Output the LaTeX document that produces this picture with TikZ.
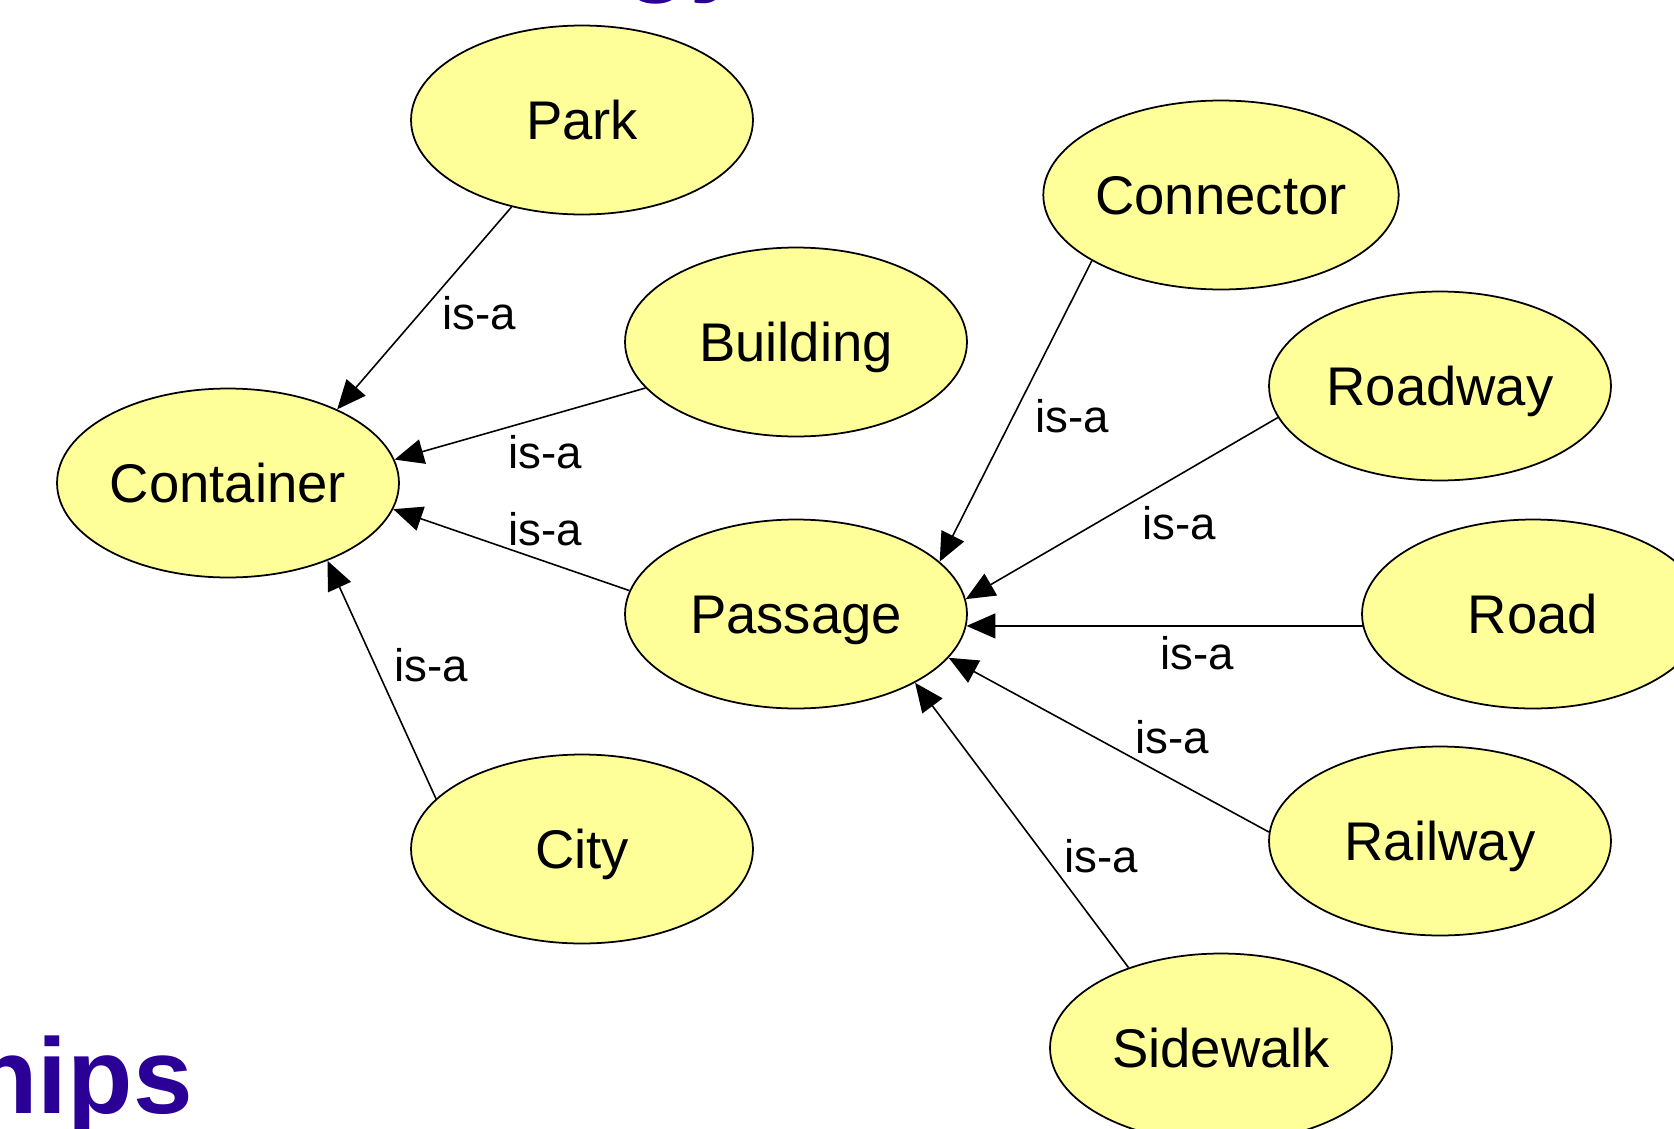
\documentclass[tikz,border=0pt]{standalone}
\usepackage{fontspec}
\setmainfont{Liberation Sans}
\usetikzlibrary{shapes.geometric,arrows.meta}
\definecolor{knotengelb}{RGB}{255,255,153}
\definecolor{titelblau}{RGB}{42,0,150}

\begin{document}
\begin{tikzpicture}[x=0.02cm, y=-0.02cm,
	konzept/.style={ellipse, draw, line width=1pt, fill=knotengelb, minimum width=6.84cm, minimum height=3.78cm, inner sep=0pt, font=\fontsize{31}{36}\selectfont, text height=22.3pt, text depth=0pt},
	isa/.style={inner sep=0pt, font=\fontsize{26}{30}\selectfont, text height=18.7pt, text depth=0pt},
	kante/.style={line width=0.9pt, -{Triangle[length=0.58cm, width=0.5cm]}},
	titel/.style={inner sep=0pt, anchor=base west, text=titelblau, font=\fontsize{61}{70}\selectfont\bfseries}]
	
	\useasboundingbox (0,0) rectangle (1674,1129);
	
	% Titelreste
	\node[titel] (titeloben) at (624,-18) {gy};
	\node[titel] (titelunten) at (-28,1113) {hips};
	
	% Knoten
	\node[konzept] (park) at (582,120) {Park};
	\node[konzept] (building) at (796,342) {Building};
	\node[konzept] (container) at (228,483) {Container};
	\node[konzept] (city) at (582,849) {City};
	\node[konzept] (passage) at (796,614) {Passage};
	\node[konzept] (connector) at (1221,195) {Connector};
	\node[konzept] (roadway) at (1440,386) {Roadway};
	\node[konzept] (road) at (1533,614) {Road};
	\node[konzept] (railway) at (1440,841) {Railway};
	\node[konzept] (sidewalk) at (1221,1048) {Sidewalk};
	
	% Kanten zu Container
	\draw[kante] (park.231) -- (container.34);
	\draw[kante] (building.197) -- (container.8);
	\draw[kante] (passage.172) -- (container.351);
	\draw[kante] (city.161) -- (container.322);
	
	% Kanten zu Passage
	\draw[kante] (connector.207) -- (passage.20);
	\draw[kante] (roadway.191) -- (passage.5);
	\draw[kante] (road.184) -- (passage.356);
	\draw[kante] (railway.177) -- (passage.344);
	\draw[kante] (sidewalk.139) -- (passage.330);
	
	% Beschriftungen
	\node[isa] (isa1) at (479,313) {is-a};
	\node[isa] (isa2) at (545,452) {is-a};
	\node[isa] (isa3) at (545,529) {is-a};
	\node[isa] (isa4) at (431,665) {is-a};
	\node[isa] (isa5) at (1072,416) {is-a};
	\node[isa] (isa6) at (1179,523) {is-a};
	\node[isa] (isa7) at (1197,653) {is-a};
	\node[isa] (isa8) at (1172,737) {is-a};
	\node[isa] (isa9) at (1101,856) {is-a};
	
\end{tikzpicture}
\end{document}
